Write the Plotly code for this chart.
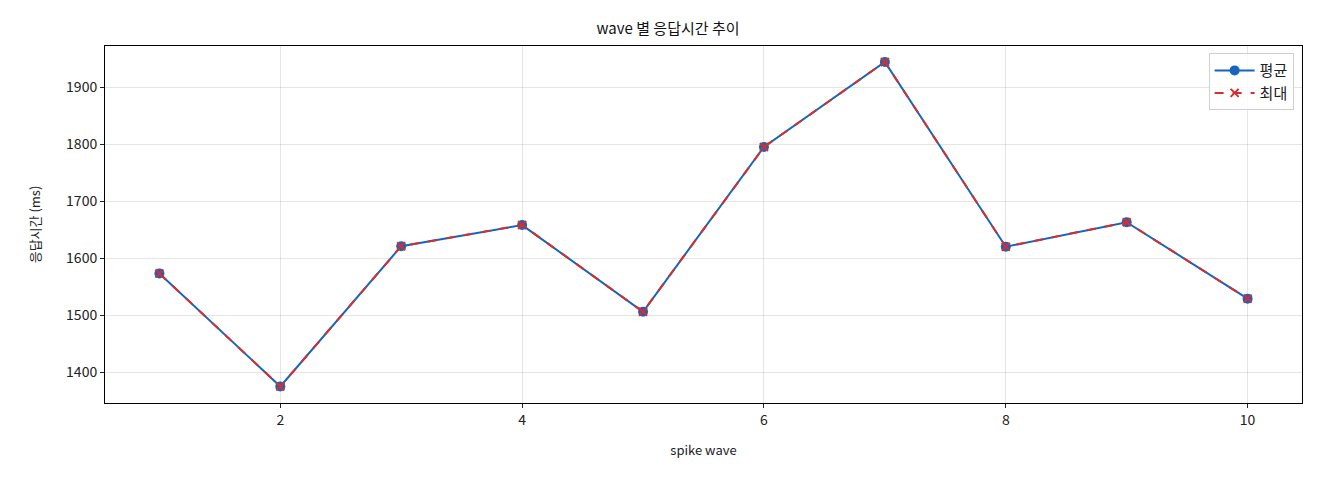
import plotly.graph_objects as go

waves = [1, 2, 3, 4, 5, 6, 7, 8, 9, 10]
avg_ms = [1573, 1375, 1621, 1658, 1506, 1795, 1944, 1620, 1663, 1529]
max_ms = [1573, 1375, 1621, 1658, 1506, 1795, 1944, 1620, 1663, 1529]
x_ticks = [2, 4, 6, 8, 10]
y_ticks = [1400, 1500, 1600, 1700, 1800, 1900]

FONT = "Noto Sans CJK KR"
BLUE = "#1565C0"
RED = "#D32F2F"

fig = go.Figure()
fig.add_trace(go.Scatter(
    x=waves, y=avg_ms, mode="lines+markers", name="평균",
    line=dict(color=BLUE, width=2),
    marker=dict(symbol="circle", size=10, color=BLUE),
))
fig.add_trace(go.Scatter(
    x=waves, y=max_ms, mode="lines+markers", name="최대",
    line=dict(color=RED, width=2, dash="dash"),
    marker=dict(symbol="x-thin", size=8, color=RED, line=dict(color=RED, width=2)),
))

fig.update_layout(
    width=1320, height=480,
    margin=dict(l=97, r=26, t=38, b=85),
    paper_bgcolor="white", plot_bgcolor="white",
    font=dict(family=FONT, color="#222222", size=12),
    title=dict(text="wave 별 응답시간 추이", x=0.5, xanchor="center",
               y=1 - 21 / 480, yanchor="middle", font=dict(size=15, color="#111111")),
    showlegend=True,
    legend=dict(x=0.993, y=0.98, xanchor="right", yanchor="top",
                bgcolor="rgba(255,255,255,0.8)", bordercolor="#d0d0d0", borderwidth=1,
                font=dict(size=15), itemwidth=40),
    xaxis=dict(range=[0.55, 10.45], tickvals=x_ticks, ticks="outside", ticklen=4,
               tickcolor="#222", showgrid=True, gridcolor="rgba(0,0,0,0.1)",
               showline=True, linecolor="black", linewidth=1, mirror=True,
               zeroline=False, title=dict(text="spike wave", font=dict(size=13), standoff=18),
               tickfont=dict(size=14)),
    yaxis=dict(range=[1346, 1972], tickvals=y_ticks, ticks="outside", ticklen=4,
               tickcolor="#222", showgrid=True, gridcolor="rgba(0,0,0,0.1)",
               showline=True, linecolor="black", linewidth=1, mirror=True,
               zeroline=False, title=dict(text="응답시간 (ms)", font=dict(size=13), standoff=22),
               tickfont=dict(size=14)),
)

fig.write_html("out.html")
